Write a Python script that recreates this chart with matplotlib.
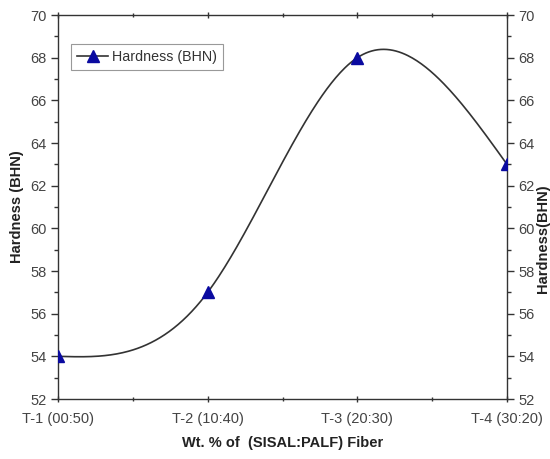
import numpy as np
import matplotlib
matplotlib.use("Agg")
import matplotlib.pyplot as plt
from matplotlib.ticker import MultipleLocator, FixedLocator

categories = ["T-1 (00:50)", "T-2 (10:40)", "T-3 (20:30)", "T-4 (30:20)"]
hardness = [54, 57, 68, 63]

plt.rcParams['font.family'] = ['Liberation Sans', 'DejaVu Sans']

def natural_spline(x, y, n=300):
    x = np.asarray(x, float); y = np.asarray(y, float)
    k = len(x); h = np.diff(x)
    A = np.zeros((k, k)); b = np.zeros(k)
    A[0, 0] = 1; A[-1, -1] = 1
    for i in range(1, k - 1):
        A[i, i - 1] = h[i - 1]; A[i, i] = 2 * (h[i - 1] + h[i]); A[i, i + 1] = h[i]
        b[i] = 6 * ((y[i + 1] - y[i]) / h[i] - (y[i] - y[i - 1]) / h[i - 1])
    M = np.linalg.solve(A, b)
    xs = np.linspace(x[0], x[-1], n); ys = np.empty_like(xs)
    for j, xv in enumerate(xs):
        i = min(np.searchsorted(x, xv, side='right') - 1, k - 2)
        t = (xv - x[i]) / h[i]
        ys[j] = (y[i] * (1 - t) + y[i + 1] * t
                 + ((1 - t) ** 3 - (1 - t)) * M[i] * h[i] ** 2 / 6
                 + (t ** 3 - t) * M[i + 1] * h[i] ** 2 / 6)
    return xs, ys

fig = plt.figure(figsize=(5.5, 4.59), dpi=100)
ax = fig.add_axes([0.1055, 0.1307, 0.8163, 0.8366])
xpos = np.arange(len(categories))
xs, ys = natural_spline(xpos, hardness)
ax.plot(xs, ys, color='#333333', lw=1.2, zorder=2)
ax.plot(xpos, hardness, linestyle='none', marker='^', color='#0a0aa0', ms=8, zorder=3)
# legend proxy
ax.plot([], [], color='#333333', lw=1.2, marker='^', mfc='#0a0aa0', mec='#0a0aa0', ms=8,
        label='Hardness (BHN)')

ax.set_xlim(0, 3)
ax.set_ylim(52, 70)
ax.set_xticks(xpos)
ax.set_xticklabels(categories)
ax.xaxis.set_minor_locator(FixedLocator([0.5, 1.5, 2.5]))
ax.yaxis.set_major_locator(MultipleLocator(2))
ax.yaxis.set_minor_locator(MultipleLocator(1))

for s in ax.spines.values():
    s.set_color('#333333'); s.set_linewidth(1.0)

ax.tick_params(axis='both', which='major', length=5, width=1, color='#333333',
               labelsize=10.5, labelcolor='#444444')
ax.tick_params(axis='both', which='minor', length=3, width=1, color='#333333')
ax.tick_params(axis='x', which='both', direction='inout', top=True)
ax.tick_params(axis='x', which='major', pad=7)
ax.tick_params(axis='y', which='both', direction='out', right=True, labelright=True, pad=3)

ax.set_ylabel('Hardness (BHN)', fontsize=10.5, fontweight='bold', color='#222222', labelpad=5)
ax.set_xlabel('Wt. % of  (SISAL:PALF) Fiber', fontsize=10.5, fontweight='bold',
              color='#222222', labelpad=7)
fig.text(0.988, 0.48, 'Hardness(BHN)', rotation=90, fontsize=10.5, fontweight='bold',
         color='#222222', ha='center', va='center')

leg = ax.legend(loc='upper left', bbox_to_anchor=(0.02, 0.935), fontsize=10.3,
                fancybox=False, framealpha=1, edgecolor='#999999', handlelength=2.2,
                borderpad=0.4, handletextpad=0.25, borderaxespad=0.3)
leg.get_frame().set_linewidth(0.8)
for t in leg.get_texts():
    t.set_color('#333333')

fig.savefig('out.png', dpi=100)
